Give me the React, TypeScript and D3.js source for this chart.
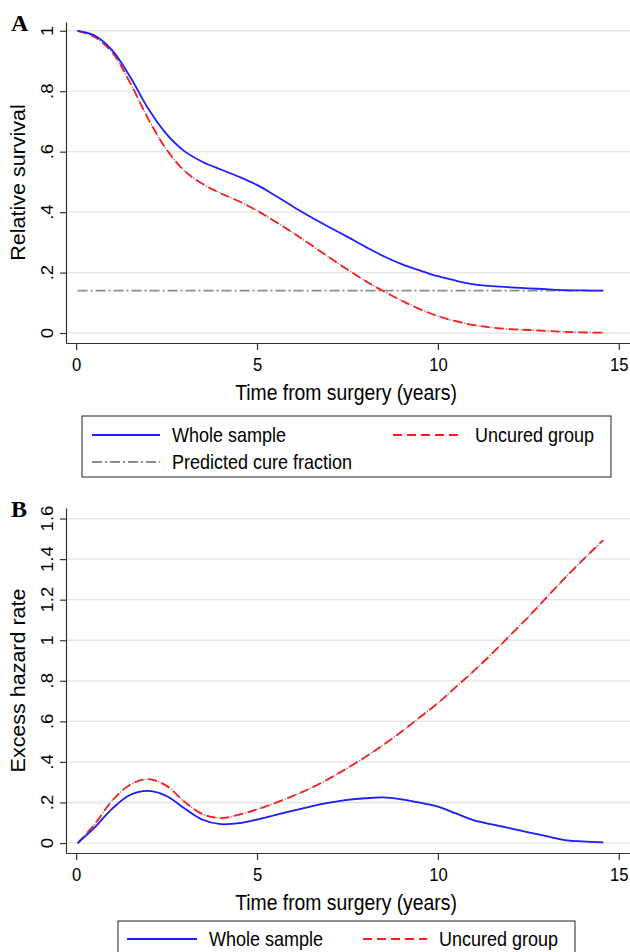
import React, { useRef, useEffect } from 'react';
import * as d3 from 'd3';

// years since surgery, shared by the fitted curves
const timeYears = [0.04, 0.5, 1, 1.5, 2, 2.5, 3, 3.5, 4, 4.5, 5, 5.5, 6, 6.5, 7, 7.5, 8, 8.5, 9, 9.5, 10, 10.5, 11, 11.5, 12, 12.5, 13, 13.5, 14, 14.57];

// panel A: relative survival
const survivalWhole = [1.0, 0.985, 0.935, 0.846, 0.741, 0.658, 0.601, 0.566, 0.541, 0.517, 0.49, 0.455, 0.418, 0.383, 0.35, 0.318, 0.285, 0.254, 0.228, 0.207, 0.188, 0.173, 0.161, 0.155, 0.151, 0.148, 0.145, 0.142, 0.141, 0.14];
const survivalUncured = [1.0, 0.98, 0.928, 0.826, 0.707, 0.607, 0.536, 0.493, 0.462, 0.436, 0.405, 0.369, 0.331, 0.291, 0.25, 0.21, 0.172, 0.138, 0.107, 0.079, 0.056, 0.039, 0.026, 0.018, 0.013, 0.01, 0.007, 0.004, 0.002, 0.001];
const cureTimes = [0.04, 14.57];
const cureFraction = [0.14, 0.14];

// panel B: excess hazard rate
const hazardWhole = [0, 0.075, 0.17, 0.238, 0.257, 0.232, 0.17, 0.115, 0.093, 0.098, 0.116, 0.138, 0.16, 0.181, 0.199, 0.213, 0.221, 0.225, 0.215, 0.199, 0.18, 0.146, 0.112, 0.092, 0.073, 0.053, 0.034, 0.015, 0.008, 0.003];
const hazardUncured = [0, 0.09, 0.21, 0.288, 0.315, 0.282, 0.203, 0.142, 0.123, 0.14, 0.166, 0.197, 0.233, 0.272, 0.318, 0.37, 0.425, 0.485, 0.55, 0.62, 0.69, 0.77, 0.85, 0.935, 1.025, 1.115, 1.21, 1.305, 1.395, 1.494];

const xTicks = [0, 5, 10, 15];
const survivalTicks = [0, 0.2, 0.4, 0.6, 0.8, 1];
const survivalTickLabels = ['0', '.2', '.4', '.6', '.8', '1'];
const hazardTicks = [0, 0.2, 0.4, 0.6, 0.8, 1, 1.2, 1.4, 1.6];
const hazardTickLabels = ['0', '.2', '.4', '.6', '.8', '1', '1.2', '1.4', '1.6'];

const SANS = '"Liberation Sans", Arial, Helvetica, sans-serif';
const SQ = 0.9; // the original figure is a little narrower than tall
const BLUE = '#1e1eff';
const RED = '#ff1c1c';
const GREY = '#8c8c8c';

const label = (g, x, y, str, size, anchor = 'start', rotated = false) =>
  g.append('text')
    .attr('transform', rotated
      ? `translate(${x},${y}) rotate(-90) scale(1,${SQ})`
      : `translate(${x},${y}) scale(${SQ},1)`)
    .attr('font-family', SANS)
    .attr('font-size', size)
    .attr('text-anchor', anchor)
    .attr('fill', '#000')
    .text(str);

const drawPanel = (svg, p) => {
  const x = d3.scaleLinear().domain([-0.28, 15.31]).range([66, 630]);
  const y = d3.scaleLinear().domain(p.yDomain).range([p.bottom, p.top]);
  const g = svg.append('g');

  g.selectAll('line.grid')
    .data(p.ticks)
    .join('line')
    .attr('x1', 66).attr('x2', 630)
    .attr('y1', d => y(d)).attr('y2', d => y(d))
    .attr('stroke', '#e4e4e4')
    .attr('stroke-width', 1.3);

  const line = d3.line().x(d => x(d[0])).y(d => y(d[1])).curve(d3.curveCatmullRom.alpha(0.5));
  const zip = (ts, vs) => ts.map((t, i) => [t, vs[i]]);

  const path = (pts, color, width, dash) =>
    g.append('path')
      .attr('d', line(pts))
      .attr('fill', 'none')
      .attr('stroke', color)
      .attr('stroke-width', width)
      .attr('stroke-dasharray', dash || null);

  p.series.forEach(s => {
    if (s.under) path(zip(s.t, s.v), GREY, 1.4, '1.5,1.5');
  });
  p.series.forEach(s => path(zip(s.t, s.v), s.color, 1.8, s.dash));

  const yAxis = g.append('g')
    .attr('transform', 'translate(66,0)')
    .call(d3.axisLeft(y).tickValues(p.ticks).tickSize(6).tickSizeOuter(0).tickFormat(() => ''));
  yAxis.selectAll('text').remove();

  const xAxis = g.append('g')
    .attr('transform', `translate(0,${p.bottom})`)
    .call(d3.axisBottom(x).tickValues(xTicks).tickSize(7).tickSizeOuter(0).tickPadding(8).tickFormat(d3.format('d')));
  xAxis.selectAll('text')
    .attr('font-family', SANS)
    .attr('font-size', 18.5)
    .attr('fill', '#000')
    .attr('transform', `scale(${SQ},1)`);

  [yAxis, xAxis].forEach(a => {
    a.selectAll('path, line').attr('stroke', '#333').attr('stroke-width', 1.2);
  });

  p.ticks.forEach((t, i) => label(g, 53, y(t), p.tickLabels[i], 18.5, 'middle', true));

  label(g, 25, (p.top + p.bottom) / 2, p.yTitle, 21.5, 'middle', true);
  label(g, 346, p.bottom + 57, 'Time from surgery (years)', 21.5, 'middle');

  g.append('text')
    .attr('x', 11).attr('y', p.top + 9)
    .attr('font-family', '"Liberation Serif", "Times New Roman", serif')
    .attr('font-weight', 'bold')
    .attr('font-size', 24)
    .text(p.letter);

  // legend
  const lg = p.legend;
  g.append('rect')
    .attr('x', lg.x).attr('y', lg.y).attr('width', lg.w).attr('height', lg.h)
    .attr('fill', '#fff').attr('stroke', '#222').attr('stroke-width', 1);
  lg.items.forEach(it => {
    g.append('line')
      .attr('x1', it.x1).attr('x2', it.x2).attr('y1', it.y).attr('y2', it.y)
      .attr('stroke', it.color).attr('stroke-width', 1.8)
      .attr('stroke-dasharray', it.dash || null);
    label(g, it.x2 + 12, it.y + 7, it.text, 20);
  });
};

const App = () => {
  const svgRef = useRef(null);

  useEffect(() => {
    const svg = d3.select(svgRef.current);
    svg.selectAll('*').remove();

    drawPanel(svg, {
      letter: 'A',
      top: 22,
      bottom: 343,
      yDomain: [-0.033, 1.029],
      ticks: survivalTicks,
      tickLabels: survivalTickLabels,
      yTitle: 'Relative survival',
      series: [
        { t: cureTimes, v: cureFraction, color: GREY, dash: '10,3,2,3' },
        { t: timeYears, v: survivalUncured, color: RED, dash: '9,5', under: true },
        { t: timeYears, v: survivalWhole, color: BLUE },
      ],
      legend: {
        x: 82, y: 416, w: 529, h: 61,
        items: [
          { x1: 92, x2: 160, y: 435, color: BLUE, text: 'Whole sample' },
          { x1: 393, x2: 463, y: 435, color: RED, dash: '9,5', text: 'Uncured group' },
          { x1: 92, x2: 160, y: 462, color: GREY, dash: '10,3,2,3', text: 'Predicted cure fraction' },
        ],
      },
    });

    drawPanel(svg, {
      letter: 'B',
      top: 508,
      bottom: 853,
      yDomain: [-0.049, 1.652],
      ticks: hazardTicks,
      tickLabels: hazardTickLabels,
      yTitle: 'Excess hazard rate',
      series: [
        { t: timeYears, v: hazardUncured, color: RED, dash: '9,5', under: true },
        { t: timeYears, v: hazardWhole, color: BLUE, under: true },
      ],
      legend: {
        x: 118, y: 921, w: 457, h: 42,
        items: [
          { x1: 127, x2: 197, y: 939, color: BLUE, text: 'Whole sample' },
          { x1: 363, x2: 427, y: 939, color: RED, dash: '9,5', text: 'Uncured group' },
        ],
      },
    });
  }, []);

  return (
    <svg
      ref={svgRef}
      width={630}
      height={952}
      style={{ position: 'absolute', left: 0, top: 0, background: '#fff' }}
    />
  );
};

export default App;
